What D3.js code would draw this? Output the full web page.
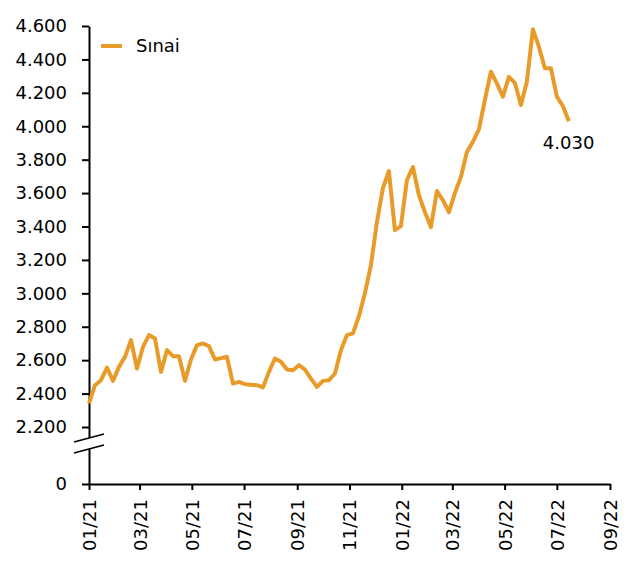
<!DOCTYPE html>
<html>
<head>
<meta charset="utf-8">
<script src="https://cdn.jsdelivr.net/npm/d3@7"></script>
<style>
	body { margin: 0; background: #fff; }
	text { font-family: "DejaVu Sans", sans-serif; fill: #000; }
</style>
</head>
<body>
<div id="chart"></div>
<script>
// weekly series, first week starts 01.01.2021
const startDate = new Date(2021, 0, 1)
const seriesName = 'Sınai'
const sinai = [
	2341, 2450, 2480, 2556, 2476, 2560, 2620, 2720, 2550, 2680,
	2750, 2730, 2530, 2660, 2624, 2624, 2476, 2604, 2690, 2700,
	2684, 2604, 2612, 2620, 2460, 2470, 2456, 2453, 2450, 2437,
	2530, 2610, 2590, 2544, 2540, 2570, 2544, 2490, 2440, 2476,
	2480, 2520, 2660, 2750, 2760, 2863, 3001, 3169, 3426, 3630,
	3732, 3378, 3402, 3678, 3756, 3588, 3486, 3396, 3612, 3558,
	3486, 3600, 3696, 3846, 3907, 3981, 4157, 4326, 4257, 4177,
	4296, 4260, 4127, 4266, 4580, 4476, 4347, 4347, 4177, 4121,
	4030
]
const yTicks = [0, 2200, 2400, 2600, 2800, 3000, 3200, 3400, 3600, 3800, 4000, 4200, 4400, 4600]
const xStart = new Date(2021, 0, 1)
const xEnd = new Date(2022, 8, 1)

const width = 633, height = 562
const plotLeft = 89, plotRight = 610, plotTop = 26, plotBottom = 484

const trLocale = d3.formatLocale({ decimal: ',', thousands: '.', grouping: [3], currency: ['', ' TL'] })
const fmt = trLocale.format(',.0f')

const data = sinai.map((v, i) => ({ date: d3.timeDay.offset(startDate, 7 * i), value: v }))

const svg = d3.select('#chart').append('svg')
	.attr('width', width)
	.attr('height', height)

const x = d3.scaleTime()
	.domain([xStart, xEnd])
	.range([plotLeft, plotRight])

// broken axis: 0 sits below the break, 2.200-4.600 is the real range
const y = d3.scaleLinear()
	.domain([0, 2200, 4600])
	.range([plotBottom, 427, plotTop])

/*----- y axis -----*/
const yAxis = svg.append('g')
	.attr('transform', `translate(${plotLeft},0)`)
	.call(d3.axisLeft(y).tickValues(yTicks).tickFormat(fmt).tickSize(7).tickSizeOuter(0).tickPadding(15))
yAxis.select('.domain').attr('stroke', '#000').attr('stroke-width', 2)
yAxis.selectAll('.tick line').attr('stroke', '#000').attr('stroke-width', 2)
yAxis.selectAll('.tick text').style('font-size', '18px').attr('fill', '#000')

// break marks
const brk = svg.append('g')
brk.append('rect')
	.attr('x', plotLeft - 3).attr('y', 438)
	.attr('width', 6).attr('height', 11)
	.attr('fill', '#fff')
brk.selectAll('line')
	.data([0, 11])
	.enter()
	.append('line')
	.attr('x1', 74).attr('x2', 104)
	.attr('y1', d => 442 + d).attr('y2', d => 434 + d)
	.attr('stroke', '#000')
	.attr('stroke-width', 1.5)

/*----- x axis -----*/
const xAxis = svg.append('g')
	.attr('transform', `translate(0,${plotBottom})`)
	.call(d3.axisBottom(x).ticks(d3.timeMonth.every(2)).tickFormat(d3.timeFormat('%m/%y')).tickSize(6).tickSizeOuter(0))
xAxis.select('.domain').attr('stroke', '#000').attr('stroke-width', 2)
xAxis.selectAll('.tick line').attr('stroke', '#000').attr('stroke-width', 2)
xAxis.selectAll('.tick text')
	.style('font-size', '18px')
	.attr('fill', '#000')
	.attr('transform', 'rotate(-90)')
	.attr('x', -15)
	.attr('y', 0)
	.attr('dy', '0.36em')
	.style('text-anchor', 'end')

/*----- line -----*/
const lineColor = '#E99B2A'
const line = d3.line()
	.x(d => x(d.date))
	.y(d => y(d.value))

svg.append('path')
	.datum(data)
	.attr('d', line)
	.attr('fill', 'none')
	.attr('stroke', lineColor)
	.attr('stroke-width', 4)
	.attr('stroke-linejoin', 'round')

// last value label
const last = data[data.length - 1]
svg.append('text')
	.attr('x', x(last.date) - 26)
	.attr('y', y(last.value) + 28)
	.style('font-size', '18px')
	.text(fmt(last.value))

/*----- legend -----*/
const legend = svg.append('g').attr('transform', 'translate(101,46)')
legend.append('line')
	.attr('x1', 0).attr('x2', 21)
	.attr('stroke', lineColor)
	.attr('stroke-width', 4)
legend.append('text')
	.attr('x', 35)
	.attr('dy', '0.35em')
	.style('font-size', '18px')
	.text(seriesName)
</script>
</body>
</html>
